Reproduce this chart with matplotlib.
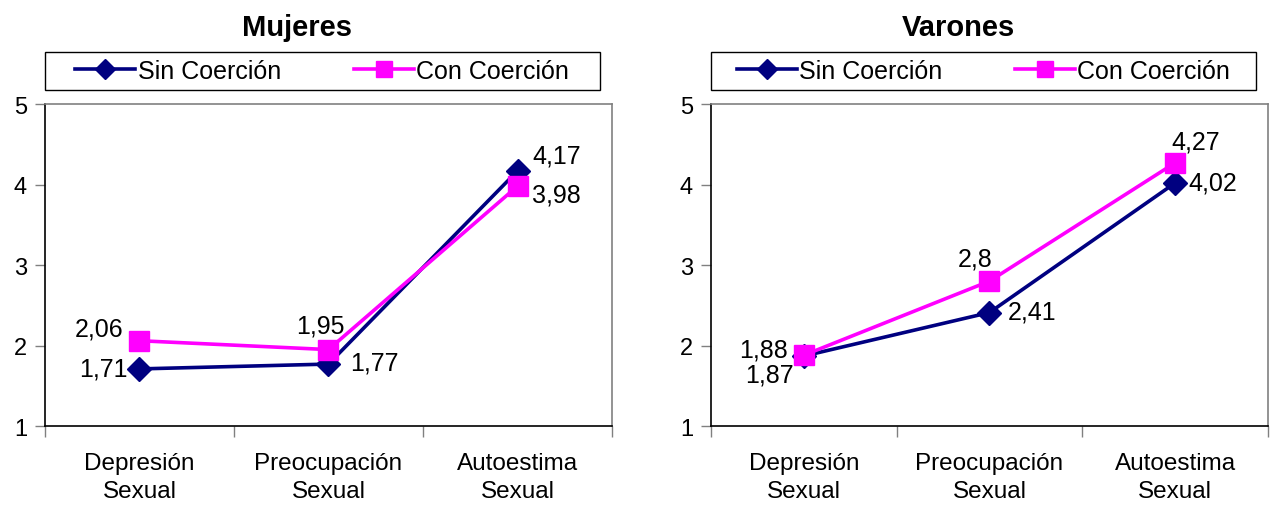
import matplotlib
matplotlib.use("Agg")
import matplotlib.pyplot as plt
from matplotlib.lines import Line2D
from matplotlib.patches import Rectangle

plt.rcParams['font.family'] = ['Liberation Sans', 'DejaVu Sans']

categories = ["Depresión\nSexual", "Preocupación\nSexual", "Autoestima\nSexual"]
series_names = ["Sin Coerción", "Con Coerción"]
mujeres_sin = [1.71, 1.77, 4.17]
mujeres_con = [2.06, 1.95, 3.98]
varones_sin = [1.87, 2.41, 4.02]
varones_con = [1.88, 2.8, 4.27]
yticks = [1, 2, 3, 4, 5]

NAVY = "#000080"
MAGENTA = "#FF00FF"

def fmt(v):
    return ("%g" % v).replace(".", ",")

fig = plt.figure(figsize=(12.7, 5.06), dpi=100)

panels = [
    ("Mujeres", mujeres_sin, mujeres_con, [0.0354, 0.156, 0.4465, 0.6364],
     # label offsets (points) for sin / con series
     [(-26, 0), (33, 1), (28, 11)],
     [(-29, 9), (-6, 17), (28, -6)]),
    ("Varones", varones_sin, varones_con, [0.5598, 0.156, 0.4386, 0.6364],
     [(-25, -13), (31, 1), (27, 0)],
     [(-29, 4), (-10, 16), (15, 15)]),
]

xs = list(range(1, len(categories) + 1))

for title, sin, con, rect, off_sin, off_con in panels:
    ax = fig.add_axes(rect)
    ax.plot(xs, sin, color=NAVY, lw=2.6, marker="D", ms=12, zorder=3)
    ax.plot(xs, con, color=MAGENTA, lw=2.6, marker="s", ms=14, zorder=4)
    ax.set_xlim(0.5, len(categories) + 0.5)
    ax.set_ylim(1, 5)
    ax.set_yticks(yticks)
    ax.set_yticklabels([str(t) for t in yticks], fontsize=17)
    ax.set_xticks(xs)
    ax.set_xticklabels(categories, fontsize=17.5, linespacing=1.35)
    ax.set_xticks([x + 0.5 for x in range(0, len(categories) + 1)], minor=True)
    ax.tick_params(axis="x", which="major", length=0, pad=19)
    ax.tick_params(axis="x", which="minor", length=8, width=1, color="#808080")
    ax.tick_params(axis="y", length=7, width=1, pad=6, color="#808080")
    for s in ("top", "right"):
        ax.spines[s].set_color("#808080")
        ax.spines[s].set_linewidth(1.2)
    for s in ("left", "bottom"):
        ax.spines[s].set_color("black")
        ax.spines[s].set_linewidth(1.2)
    for x, v, off in zip(xs, sin, off_sin):
        ax.annotate(fmt(v), (x, v), xytext=off, textcoords="offset points",
                    ha="center", va="center", fontsize=18)
    for x, v, off in zip(xs, con, off_con):
        ax.annotate(fmt(v), (x, v), xytext=off, textcoords="offset points",
                    ha="center", va="center", fontsize=18)
    ax.set_title(title, fontsize=21, fontweight="bold", pad=50, x=0.445)

    # legend box above the plot
    bx0 = rect[0]
    bw = rect[2] * 0.978
    by0, bh = 0.820, 0.075
    fig.add_artist(Rectangle((bx0, by0), bw, bh, transform=fig.transFigure,
                             fill=False, edgecolor="black", lw=1.0))
    handles = [
        Line2D([], [], color=NAVY, lw=2.6, marker="D", ms=10),
        Line2D([], [], color=MAGENTA, lw=2.6, marker="s", ms=11),
    ]
    fig.legend(handles, series_names, loc="center",
               bbox_to_anchor=(bx0 + bw / 2, by0 + bh / 2), ncol=2,
               frameon=False, fontsize=18, handlelength=2.4,
               handletextpad=0.1, columnspacing=2.9, borderpad=0)

fig.savefig("out.png", dpi=100)
